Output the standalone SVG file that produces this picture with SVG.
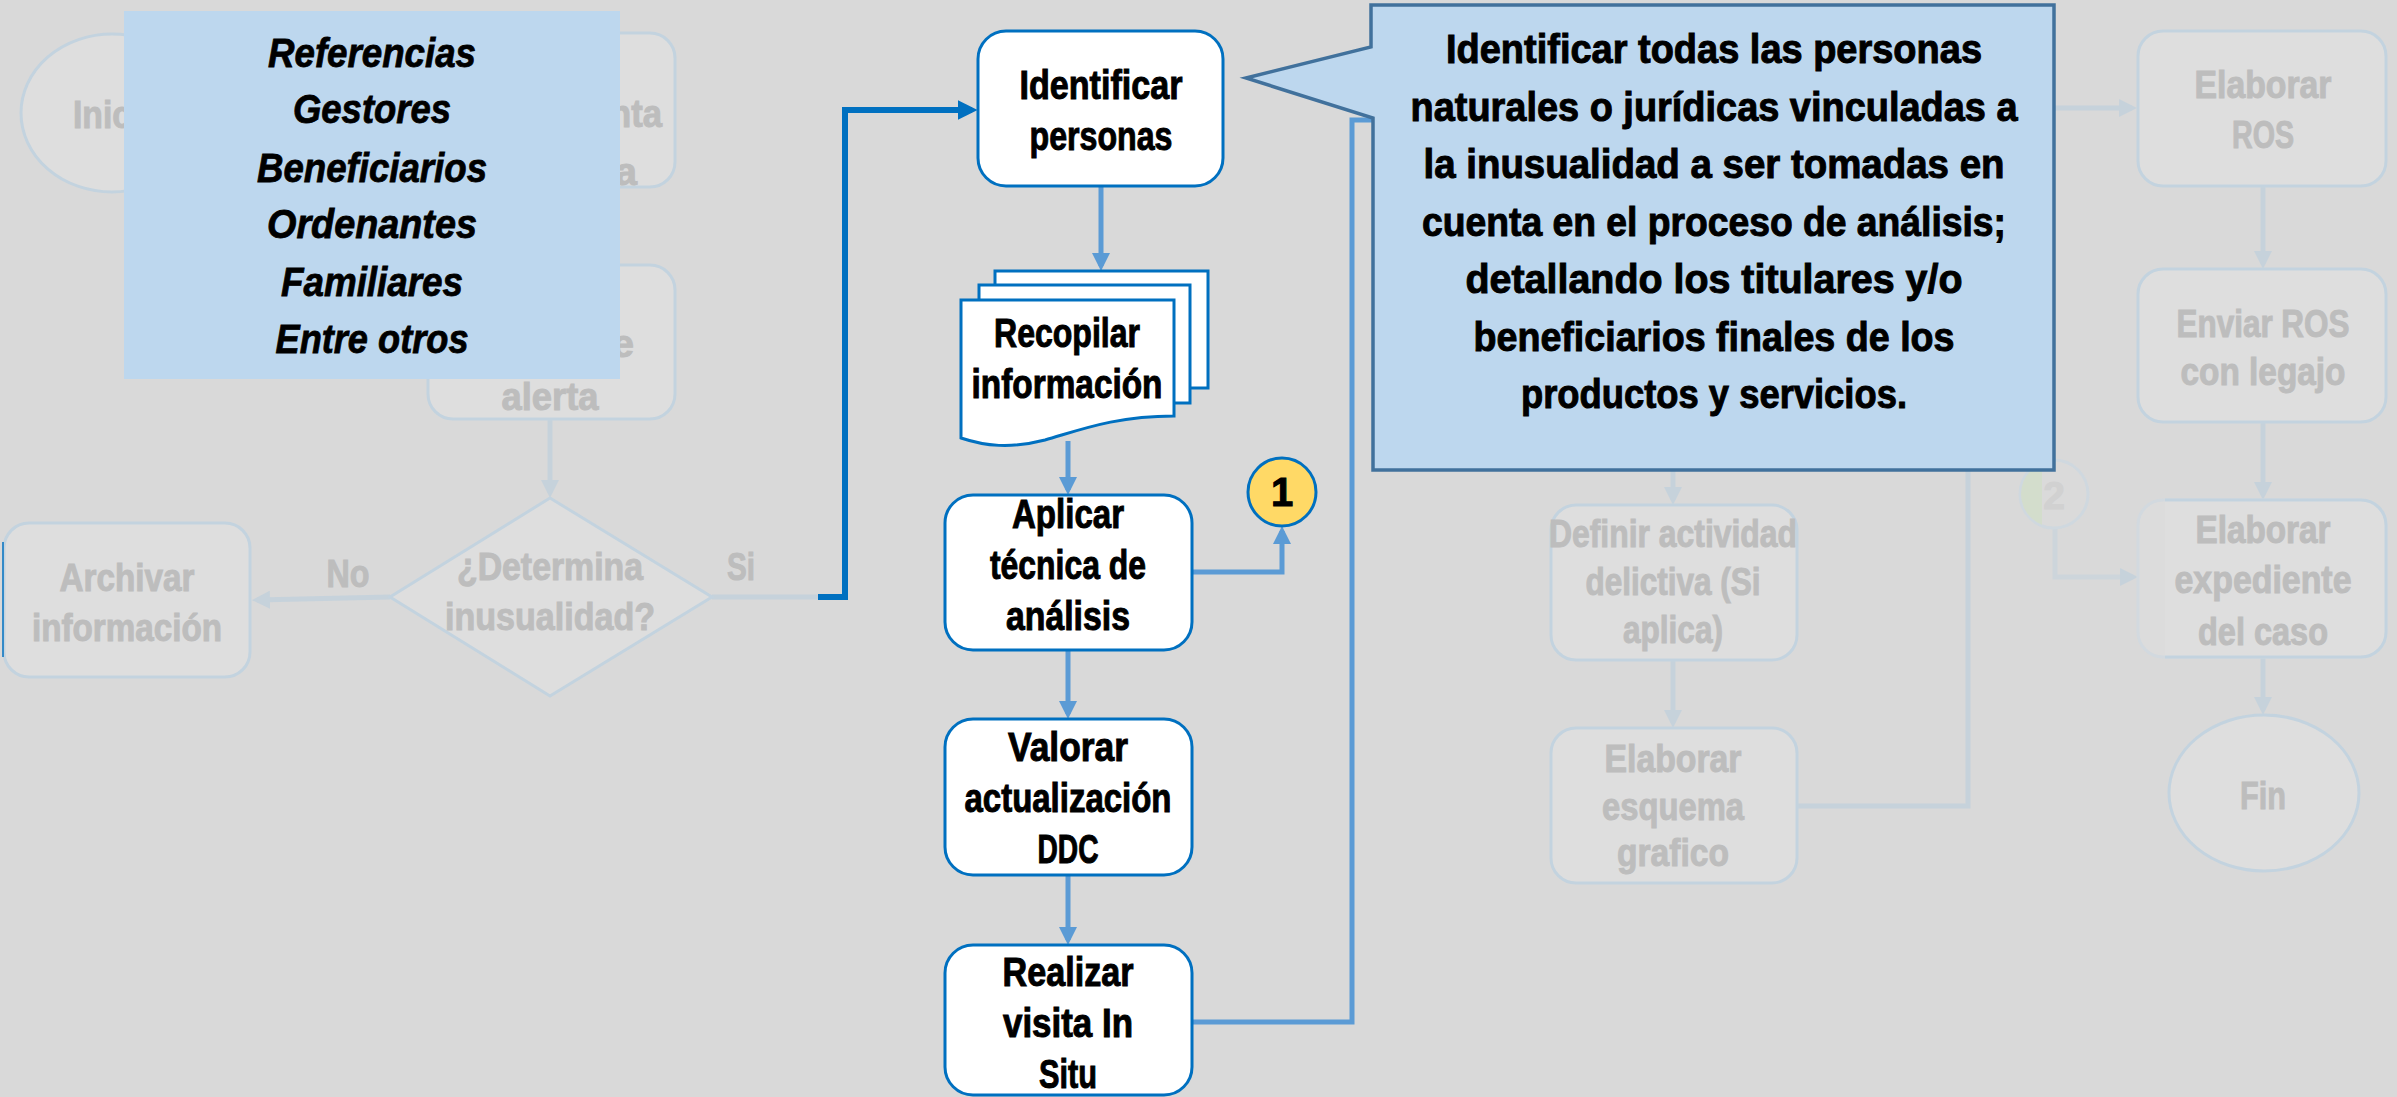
<svg xmlns="http://www.w3.org/2000/svg" width="2397" height="1097" viewBox="0 0 2397 1097">
<style>
.fn{fill:#DEDEDE;stroke:#C3D3DF;stroke-width:3}
.ft{font-family:"Liberation Sans",Arial,sans-serif;font-weight:bold;fill:#BDBDBD;stroke:#BDBDBD;stroke-width:1;text-anchor:middle;font-size:39px}
.n{fill:#FFFFFF;stroke:#0070C0;stroke-width:3}
.t{font-family:"Liberation Sans",Arial,sans-serif;font-weight:bold;fill:#000000;stroke:#000000;stroke-width:1;text-anchor:middle;font-size:40px}
.ct{font-size:41px}
.lg{font-family:"Liberation Sans",Arial,sans-serif;font-weight:bold;font-style:italic;fill:#000000;stroke:#000000;stroke-width:0.8;text-anchor:middle;font-size:40px}
.c{fill:none;stroke:#5B9BD5;stroke-width:5}
.fc{fill:none;stroke:#C6D2DB;stroke-width:5}
.dk{fill:none;stroke:#0070C0;stroke-width:6}
</style>
<defs>
<marker id="am" markerUnits="userSpaceOnUse" viewBox="0 0 10 10" refX="7.2" refY="5" markerWidth="18" markerHeight="18" orient="auto"><path d="M0,0 L10,5 L0,10 Z" fill="#5B9BD5"/></marker>
<marker id="ad" markerUnits="userSpaceOnUse" viewBox="0 0 10 10" refX="7.2" refY="5" markerWidth="20" markerHeight="20" orient="auto"><path d="M0,0 L10,5 L0,10 Z" fill="#0070C0"/></marker>
<marker id="af" markerUnits="userSpaceOnUse" viewBox="0 0 10 10" refX="7.2" refY="5" markerWidth="18" markerHeight="18" orient="auto"><path d="M0,0 L10,5 L0,10 Z" fill="#C6D2DB"/></marker>
<clipPath id="expR"><rect x="2165" y="480" width="240" height="200"/></clipPath>
<clipPath id="c2L"><rect x="2010" y="450" width="32" height="90"/></clipPath>
</defs>
<rect x="0" y="0" width="2397" height="1097" fill="#D9D9D9"/>

<!-- faded connectors -->
<g id="connectors-faded">
<path class="fc" d="M550,419 V493" marker-end="url(#af)"/>
<path class="fc" d="M390,597 L257,600" marker-end="url(#af)"/>
<path class="fc" d="M712,597 H818"/>
<path class="fc" d="M2055,528 V577 H2133" marker-end="url(#af)" style="stroke:#CDD5DB"/>
<path class="fc" d="M1673,470 V500" marker-end="url(#af)"/>
<path class="fc" d="M1673,660 V723" marker-end="url(#af)"/>
<path class="fc" d="M1797,806 H1968 V108 H2132" marker-end="url(#af)"/>
<path class="fc" d="M2263,186 V264" marker-end="url(#af)"/>
<path class="fc" d="M2263,422 V495" marker-end="url(#af)"/>
<path class="fc" d="M2263,657 V710" marker-end="url(#af)"/>
</g>

<!-- faded nodes -->
<g id="inicio"><ellipse class="fn" cx="112" cy="113" rx="91" ry="79"/><text class="ft" x="73" y="128" style="text-anchor:start" textLength="88" lengthAdjust="spacingAndGlyphs">Inicio</text></g>
<g id="nodo-b"><rect class="fn" x="428" y="33" width="247" height="154" rx="25"/><text class="ft" x="662" y="127" style="text-anchor:end" textLength="52" lengthAdjust="spacingAndGlyphs">nta</text><text class="ft" x="637" y="185" style="text-anchor:end">a</text></g>
<g id="nodo-c"><rect class="fn" x="428" y="265" width="247" height="154" rx="25"/><text class="ft" x="634" y="357" style="text-anchor:end">e</text><text class="ft" x="550" y="410" textLength="97" lengthAdjust="spacingAndGlyphs">alerta</text></g>
<g id="determina"><polygon class="fn" points="550,498 712,597 550,696 390,597"/><text class="ft" x="550" y="580" textLength="186" lengthAdjust="spacingAndGlyphs">¿Determina</text><text class="ft" x="550" y="630" textLength="210" lengthAdjust="spacingAndGlyphs">inusualidad?</text></g>
<g id="lbl-no"><text class="ft" x="348" y="587" textLength="43" lengthAdjust="spacingAndGlyphs">No</text></g>
<g id="lbl-si"><text class="ft" x="741" y="580" textLength="28" lengthAdjust="spacingAndGlyphs">Si</text></g>
<g id="archivar"><rect class="fn" x="4" y="523" width="246" height="154" rx="25"/><line x1="3" y1="542" x2="3" y2="657" stroke="#0070C0" stroke-width="1.5"/><text class="ft" x="127" y="591" textLength="135" lengthAdjust="spacingAndGlyphs">Archivar</text><text class="ft" x="127" y="641" textLength="190" lengthAdjust="spacingAndGlyphs">información</text></g>
<g id="definir"><rect class="fn" x="1551" y="505" width="246" height="155" rx="25"/><text class="ft" x="1673" y="547" textLength="248" lengthAdjust="spacingAndGlyphs">Definir actividad</text><text class="ft" x="1673" y="595" textLength="175" lengthAdjust="spacingAndGlyphs">delictiva (Si</text><text class="ft" x="1673" y="643" textLength="100" lengthAdjust="spacingAndGlyphs">aplica)</text></g>
<g id="esquema"><rect class="fn" x="1551" y="728" width="246" height="155" rx="25"/><text class="ft" x="1673" y="772" textLength="137" lengthAdjust="spacingAndGlyphs">Elaborar</text><text class="ft" x="1673" y="820" textLength="142" lengthAdjust="spacingAndGlyphs">esquema</text><text class="ft" x="1673" y="866" textLength="112" lengthAdjust="spacingAndGlyphs">grafico</text></g>
<g id="ros"><rect class="fn" x="2138" y="31" width="248" height="155" rx="25"/><text class="ft" x="2263" y="98" textLength="137" lengthAdjust="spacingAndGlyphs">Elaborar</text><text class="ft" x="2263" y="148" textLength="62" lengthAdjust="spacingAndGlyphs">ROS</text></g>
<g id="enviar"><rect class="fn" x="2138" y="269" width="248" height="153" rx="25"/><text class="ft" x="2263" y="337" textLength="173" lengthAdjust="spacingAndGlyphs">Enviar ROS</text><text class="ft" x="2263" y="385" textLength="165" lengthAdjust="spacingAndGlyphs">con legajo</text></g>
<g id="expediente"><rect class="fn" x="2138" y="500" width="248" height="157" rx="25" style="stroke:#D2D9DF;fill:#DCDCDC"/><rect class="fn" x="2138" y="500" width="248" height="157" rx="25" clip-path="url(#expR)"/><text class="ft" x="2263" y="543" textLength="135" lengthAdjust="spacingAndGlyphs">Elaborar</text><text class="ft" x="2263" y="593" textLength="177" lengthAdjust="spacingAndGlyphs">expediente</text><text class="ft" x="2263" y="645" textLength="130" lengthAdjust="spacingAndGlyphs">del caso</text></g>
<g id="fin"><ellipse class="fn" cx="2264" cy="793" rx="95" ry="78"/><text class="ft" x="2263" y="809" textLength="46" lengthAdjust="spacingAndGlyphs">Fin</text></g>
<g id="conector-2"><circle cx="2054" cy="494" r="34" fill="#DADADA" stroke="#CFD8DF" stroke-width="3"/><circle cx="2054" cy="494" r="33" fill="#D3DDCC" clip-path="url(#c2L)"/><text class="ft" x="2054" y="509" style="fill:#D1D1D1;stroke:#D1D1D1">2</text></g>

<!-- active connectors -->
<g id="connectors">
<path class="dk" d="M818,597 H845 V110 H972" marker-end="url(#ad)"/>
<path class="c" d="M1101,187 V266" marker-end="url(#am)"/>
<path class="c" d="M1068,441 V490" marker-end="url(#am)"/>
<path class="c" d="M1068,650 V714" marker-end="url(#am)"/>
<path class="c" d="M1068,875 V940" marker-end="url(#am)"/>
<path class="c" d="M1192,572 H1282 V531" marker-end="url(#am)"/>
<path class="c" d="M1192,1022 H1352 V120 H1374"/>
</g>

<!-- active nodes -->
<g id="identificar"><rect class="n" x="978" y="31" width="245" height="155" rx="28"/><text class="t" x="1101" y="99" textLength="163" lengthAdjust="spacingAndGlyphs">Identificar</text><text class="t" x="1101" y="150" textLength="143" lengthAdjust="spacingAndGlyphs">personas</text></g>
<g id="recopilar"><rect class="n" x="995" y="271" width="213" height="117"/><rect class="n" x="979" y="285" width="211" height="118"/><path class="n" d="M961,300 H1174 V416 C1115,416 1080,430 1045,440 C1010,449 985,446 961,438 Z"/><text class="t" x="1067" y="347" textLength="146" lengthAdjust="spacingAndGlyphs">Recopilar</text><text class="t" x="1067" y="398" textLength="191" lengthAdjust="spacingAndGlyphs">información</text></g>
<g id="aplicar"><rect class="n" x="945" y="495" width="247" height="155" rx="28"/><text class="t" x="1068" y="528" textLength="112" lengthAdjust="spacingAndGlyphs">Aplicar</text><text class="t" x="1068" y="579" textLength="156" lengthAdjust="spacingAndGlyphs">técnica de</text><text class="t" x="1068" y="630" textLength="124" lengthAdjust="spacingAndGlyphs">análisis</text></g>
<g id="valorar"><rect class="n" x="945" y="719" width="247" height="156" rx="28"/><text class="t" x="1068" y="761" textLength="120" lengthAdjust="spacingAndGlyphs">Valorar</text><text class="t" x="1068" y="812" textLength="207" lengthAdjust="spacingAndGlyphs">actualización</text><text class="t" x="1068" y="863" textLength="61" lengthAdjust="spacingAndGlyphs">DDC</text></g>
<g id="realizar"><rect class="n" x="945" y="945" width="247" height="150" rx="28"/><text class="t" x="1068" y="986" textLength="131" lengthAdjust="spacingAndGlyphs">Realizar</text><text class="t" x="1068" y="1037" textLength="130" lengthAdjust="spacingAndGlyphs">visita In</text><text class="t" x="1068" y="1088" textLength="58" lengthAdjust="spacingAndGlyphs">Situ</text></g>
<g id="conector-1"><circle cx="1282" cy="492" r="34" fill="#FFD966" stroke="#0070C0" stroke-width="3"/><text class="t" x="1282" y="506">1</text></g>

<!-- callout -->
<g id="nota">
<path d="M1371,5 H2054 V470 H1373 V118 L1246,78 L1371,47 Z" fill="#BDD7EE" stroke="#41719C" stroke-width="3.5"/>
<text class="t ct" x="1714" y="63" textLength="536" lengthAdjust="spacingAndGlyphs">Identificar todas las personas</text>
<text class="t ct" x="1714" y="121" textLength="607" lengthAdjust="spacingAndGlyphs">naturales o jurídicas vinculadas a</text>
<text class="t ct" x="1714" y="178" textLength="581" lengthAdjust="spacingAndGlyphs">la inusualidad a ser tomadas en</text>
<text class="t ct" x="1714" y="236" textLength="584" lengthAdjust="spacingAndGlyphs">cuenta en el proceso de análisis;</text>
<text class="t ct" x="1714" y="293" textLength="497" lengthAdjust="spacingAndGlyphs">detallando los titulares y/o</text>
<text class="t ct" x="1714" y="351" textLength="481" lengthAdjust="spacingAndGlyphs">beneficiarios finales de los</text>
<text class="t ct" x="1714" y="408" textLength="386" lengthAdjust="spacingAndGlyphs">productos y servicios.</text>
</g>

<!-- legend -->
<g id="referencias">
<rect x="124" y="11" width="496" height="368" fill="#BDD7EE"/>
<text class="lg" x="372" y="67" textLength="208" lengthAdjust="spacingAndGlyphs">Referencias</text>
<text class="lg" x="372" y="123" textLength="158" lengthAdjust="spacingAndGlyphs">Gestores</text>
<text class="lg" x="372" y="182" textLength="230" lengthAdjust="spacingAndGlyphs">Beneficiarios</text>
<text class="lg" x="372" y="238" textLength="210" lengthAdjust="spacingAndGlyphs">Ordenantes</text>
<text class="lg" x="372" y="296" textLength="182" lengthAdjust="spacingAndGlyphs">Familiares</text>
<text class="lg" x="372" y="353" textLength="193" lengthAdjust="spacingAndGlyphs">Entre otros</text>
</g>
</svg>
